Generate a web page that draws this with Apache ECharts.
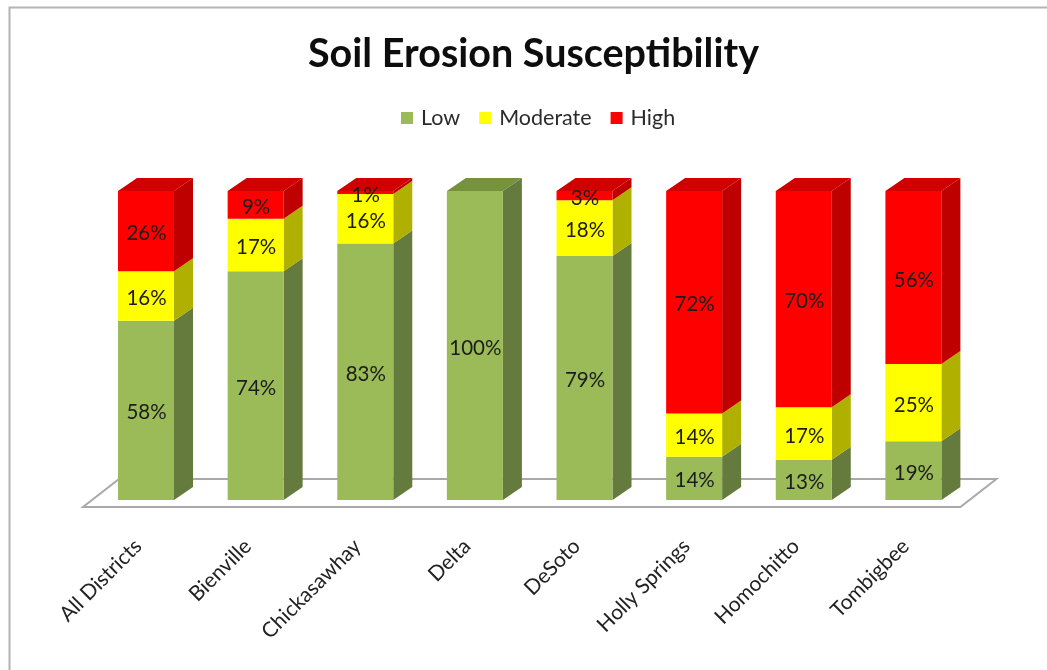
<!DOCTYPE html>
<html>
<head>
<meta charset="utf-8">
<style>html,body{margin:0;padding:0;background:#fff}#c{width:1047px;height:670px;filter:blur(0.6px)}</style>
<script src="https://cdn.jsdelivr.net/npm/echarts@6/dist/echarts.min.js"></script>
</head>
<body>
<div id="c"></div>
<script>
const titleText = 'Soil Erosion Susceptibility';
const categories = ['All Districts','Bienville','Chickasawhay','Delta','DeSoto','Holly Springs','Homochitto','Tombigbee'];
const low      = [58,74,83,100,79,14,13,19];
const moderate = [16,17,16,0,18,14,17,25];
const high     = [26,9,1,0,3,72,70,56];
const FONT = 'Lato, "Open Sans", sans-serif';
const depthX = 19, depthY = -13, barWidth = 56;

function rows(values, below){
  return values.map((v,i)=>{
    const base = below.reduce((s,a)=>s+a[i],0);
    return [i, base, base+v, v];
  });
}
function stackItem(front, side, top){
  return function(params, api){
    const v = api.value(3);
    if(!v) return {type:'group',children:[]};
    const i = api.value(0);
    const p0 = api.coord([i, api.value(1)]);
    const p1 = api.coord([i, api.value(2)]);
    const l = p0[0]-barWidth/2, r = p0[0]+barWidth/2, b = p0[1], t = p1[1];
    const children = [
      {type:'polygon',shape:{points:[[r,b],[r+depthX,b+depthY],[r+depthX,t+depthY],[r,t]]},style:{fill:side}},
      {type:'rect',shape:{x:l,y:t,width:barWidth,height:b-t},style:{fill:front}}
    ];
    if(api.value(2) >= 100){
      children.push({type:'polygon',shape:{points:[[l,t],[r,t],[r+depthX,t+depthY],[l+depthX,t+depthY]]},style:{fill:top}});
    }
    children.push({type:'text',x:p0[0]+0.5,y:(b+t)/2+2.5,z2:10,style:{text:v+'%',fill:'#1c1c1c',font:'20.5px '+FONT,textAlign:'center',textVerticalAlign:'middle'}});
    return {type:'group',children};
  };
}
function floorItem(params, api){
  const first = api.coord([0,0]), last = api.coord([categories.length-1,0]);
  const y0 = first[1], lx = first[0]-63, rx = last[0]+47;
  return {type:'polygon',shape:{points:[[lx,y0+7],[rx,y0+7],[rx+36,y0-21],[lx+36,y0-21]]},
    style:{fill:'#ffffff',stroke:'#a9a9ad',lineWidth:2}};
}
function stackSeries(name, data, front, side, top){
  return {name, type:'custom', renderItem:stackItem(front,side,top), data, z:3,
    itemStyle:{color:front}, encode:{x:0,y:2}, clip:false};
}
const chart = echarts.init(document.getElementById('c'),null,{renderer:'canvas'});
chart.setOption({
  animation:false,
  backgroundColor:'#fff',
  title:{text:titleText,left:308,top:34,padding:0,textStyle:{fontFamily:FONT,fontSize:39.5,fontWeight:'bold',color:'#0d0d0d'}},
  legend:{left:401,top:107,padding:0,itemWidth:12,itemHeight:12,itemGap:19,
    data:['Low','Moderate','High'],icon:'rect',
    textStyle:{fontFamily:FONT,fontSize:21.5,color:'#2b2b2b',padding:[0,0,0,3]}},
  grid:{left:91.2,top:191,width:877,height:309},
  xAxis:{type:'category',data:categories,axisLine:{show:false},axisTick:{show:false},
    axisLabel:{rotate:45,interval:0,margin:35,padding:[0,11,0,0],fontFamily:FONT,fontSize:21,color:'#222'}},
  yAxis:{type:'value',min:0,max:100,show:false,splitLine:{show:false}},
  graphic:[{type:'rect',silent:true,z:-1,shape:{x:9.5,y:7.5,width:1100,height:800},style:{fill:'none',stroke:'#b4b4b4',lineWidth:2}}],
  series:[
    {type:'custom',name:'floor',renderItem:floorItem,data:[[0,0]],z:1,clip:false,encode:{x:0,y:1},silent:true},
    stackSeries('Low',rows(low,[]),'#9BBB59','#657A3D','#76923C'),
    stackSeries('Moderate',rows(moderate,[low]),'#FFFF00','#B0B000','#B0B000'),
    stackSeries('High',rows(high,[low,moderate]),'#FF0000','#BE0000','#D00000')
  ]
});
</script>
</body>
</html>
